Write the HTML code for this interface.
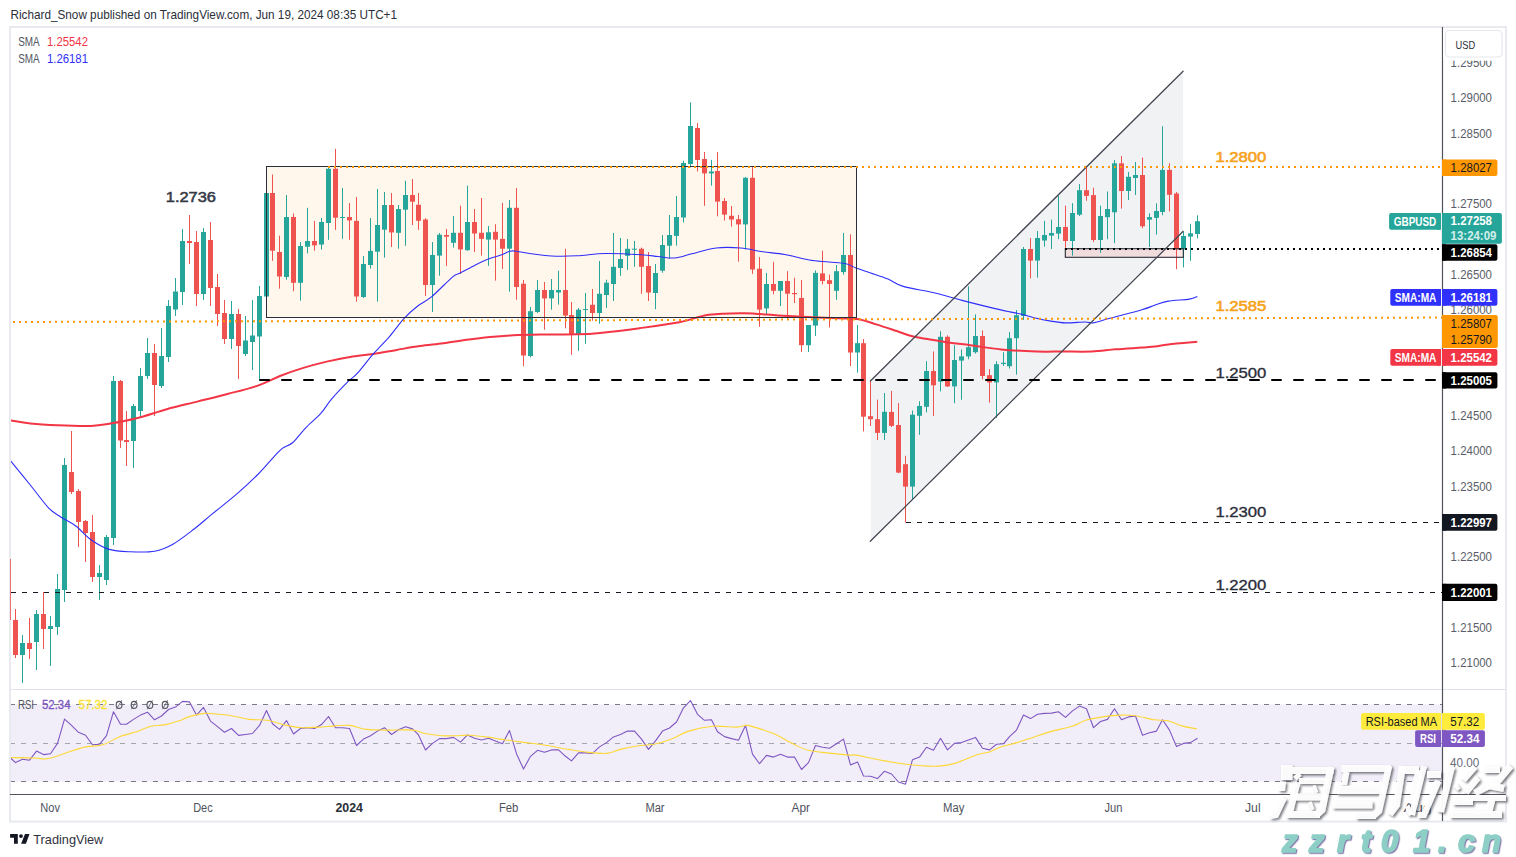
<!DOCTYPE html><html><head><meta charset="utf-8"><title>GBPUSD chart</title><style>
html,body{margin:0;padding:0;background:#fff;width:1516px;height:857px;overflow:hidden}
svg{display:block}text{font-family:"Liberation Sans",sans-serif}
</style></head><body>
<svg width="1516" height="857" viewBox="0 0 1516 857">
<defs><clipPath id="mp"><rect x="11" y="28" width="1431" height="661"/></clipPath><clipPath id="rp"><rect x="11" y="690" width="1431" height="104"/></clipPath></defs>
<rect x="0" y="0" width="1516" height="857" fill="#fff"/>
<text x="10.5" y="19" font-size="12.2" fill="#2a2e39" textLength="386.5" lengthAdjust="spacingAndGlyphs">Richard_Snow published on TradingView.com, Jun 19, 2024 08:35 UTC+1</text>
<rect x="10" y="27" width="1496" height="794.5" fill="none" stroke="#e8eaf0" stroke-width="2"/>
<g clip-path="url(#mp)">
<rect x="266.5" y="166.5" width="590" height="151" fill="#fff6ec"/>
<polygon points="870.8,381 1183.1,71.2 1183.1,231.3 870.8,541.3" fill="#f1f2f3"/>
<rect x="1065.3" y="248.7" width="118" height="8.6" fill="#f242451f"/>
<g fill="#26a69a"><rect x="22" y="635" width="1" height="48"/><rect x="20" y="643" width="5" height="12"/><rect x="36" y="610" width="1" height="60"/><rect x="34" y="614" width="5" height="28"/><rect x="50" y="616" width="1" height="50"/><rect x="48" y="626" width="5" height="3"/><rect x="57" y="574" width="1" height="61"/><rect x="55" y="589" width="5" height="38"/><rect x="64" y="458" width="1" height="144"/><rect x="62" y="465" width="5" height="125"/><rect x="99" y="565" width="1" height="35"/><rect x="97" y="573" width="5" height="4"/><rect x="106" y="535" width="1" height="50"/><rect x="104" y="537" width="5" height="43"/><rect x="113" y="376" width="1" height="169"/><rect x="111" y="381" width="5" height="157"/><rect x="133" y="404" width="1" height="64"/><rect x="131" y="406" width="5" height="35"/><rect x="140" y="368" width="1" height="49"/><rect x="138" y="376" width="5" height="35"/><rect x="147" y="338" width="1" height="41"/><rect x="145" y="353" width="5" height="23"/><rect x="161" y="328" width="1" height="60"/><rect x="159" y="356" width="5" height="30"/><rect x="168" y="300" width="1" height="62"/><rect x="166" y="306" width="5" height="51"/><rect x="175" y="278" width="1" height="38"/><rect x="173" y="291.5" width="5" height="18"/><rect x="182" y="229" width="1" height="76"/><rect x="180" y="241" width="5" height="51"/><rect x="203" y="228" width="1" height="72"/><rect x="201" y="232" width="5" height="62"/><rect x="231" y="301" width="1" height="48"/><rect x="229" y="314" width="5" height="25"/><rect x="245" y="316" width="1" height="40"/><rect x="243" y="340.5" width="5" height="13.5"/><rect x="252" y="300" width="1" height="70"/><rect x="250" y="335.5" width="5" height="6.5"/><rect x="259" y="286" width="1" height="93"/><rect x="257" y="296" width="5" height="40.5"/><rect x="266" y="192" width="1" height="106"/><rect x="264" y="193" width="5" height="103.5"/><rect x="286" y="195" width="1" height="84.7"/><rect x="284" y="217" width="5" height="60"/><rect x="300" y="242" width="1" height="58.7"/><rect x="298" y="246" width="5" height="36.8"/><rect x="307" y="207.8" width="1" height="45.6"/><rect x="305" y="241" width="5" height="5.7"/><rect x="321" y="218" width="1" height="31.6"/><rect x="319" y="222" width="5" height="22.6"/><rect x="328" y="167" width="1" height="72.8"/><rect x="326" y="168.8" width="5" height="54.2"/><rect x="342" y="187.9" width="1" height="50.8"/><rect x="340" y="217" width="5" height="1"/><rect x="363" y="256" width="1" height="42"/><rect x="361" y="264" width="5" height="33"/><rect x="370" y="218" width="1" height="50.5"/><rect x="368" y="250.9" width="5" height="14.1"/><rect x="377" y="189" width="1" height="112.7"/><rect x="375" y="225" width="5" height="26.7"/><rect x="384" y="192" width="1" height="65.6"/><rect x="382" y="205" width="5" height="24.7"/><rect x="398" y="205" width="1" height="43.7"/><rect x="396" y="209" width="5" height="23.8"/><rect x="405" y="180.8" width="1" height="65"/><rect x="403" y="195" width="5" height="14.7"/><rect x="432" y="242" width="1" height="70"/><rect x="430" y="255" width="5" height="30"/><rect x="439" y="233" width="1" height="42.7"/><rect x="437" y="234.7" width="5" height="20.9"/><rect x="453" y="215.9" width="1" height="31.8"/><rect x="451" y="232.8" width="5" height="10"/><rect x="467" y="185.7" width="1" height="65"/><rect x="465" y="222" width="5" height="28.2"/><rect x="488" y="226" width="1" height="39.9"/><rect x="486" y="232.3" width="5" height="7.3"/><rect x="509" y="200" width="1" height="91.6"/><rect x="507" y="207.8" width="5" height="40.9"/><rect x="530" y="307" width="1" height="50.4"/><rect x="528" y="311.2" width="5" height="44.8"/><rect x="537" y="280" width="1" height="33"/><rect x="535" y="290" width="5" height="22"/><rect x="551" y="279" width="1" height="30.7"/><rect x="549" y="290" width="5" height="8.4"/><rect x="558" y="270.7" width="1" height="33.9"/><rect x="556" y="290" width="5" height="2.5"/><rect x="578" y="308" width="1" height="42.8"/><rect x="576" y="309.7" width="5" height="24.6"/><rect x="585" y="293" width="1" height="50.8"/><rect x="583" y="309.1" width="5" height="1"/><rect x="599" y="261" width="1" height="62.8"/><rect x="597" y="293.8" width="5" height="19.2"/><rect x="606" y="279.7" width="1" height="28.2"/><rect x="604" y="282.7" width="5" height="12.3"/><rect x="613" y="233" width="1" height="68"/><rect x="611" y="266.8" width="5" height="17.2"/><rect x="620" y="238" width="1" height="37.8"/><rect x="618" y="259" width="5" height="9"/><rect x="627" y="239" width="1" height="30.9"/><rect x="625" y="248.8" width="5" height="7"/><rect x="634" y="241" width="1" height="25.8"/><rect x="632" y="248.7" width="5" height="1"/><rect x="655" y="264" width="1" height="45.2"/><rect x="653" y="273" width="5" height="20"/><rect x="662" y="235" width="1" height="37.7"/><rect x="660" y="245" width="5" height="25.7"/><rect x="669" y="215" width="1" height="43.7"/><rect x="667" y="235" width="5" height="10.7"/><rect x="676" y="196" width="1" height="49.7"/><rect x="674" y="217" width="5" height="18.9"/><rect x="683" y="160.7" width="1" height="61.7"/><rect x="681" y="163" width="5" height="54.5"/><rect x="690" y="102.4" width="1" height="64.9"/><rect x="688" y="126" width="5" height="38"/><rect x="711" y="160" width="1" height="25.7"/><rect x="709" y="171.5" width="5" height="1.9"/><rect x="745" y="177" width="1" height="72.4"/><rect x="743" y="177.8" width="5" height="46.6"/><rect x="766" y="272.9" width="1" height="41.6"/><rect x="764" y="284" width="5" height="24.4"/><rect x="780" y="281" width="1" height="25"/><rect x="778" y="281" width="5" height="9.8"/><rect x="808" y="325" width="1" height="27"/><rect x="806" y="325" width="5" height="20.2"/><rect x="815" y="270.4" width="1" height="65.5"/><rect x="813" y="272.9" width="5" height="52.7"/><rect x="836" y="265" width="1" height="34.8"/><rect x="834" y="271.2" width="5" height="19.6"/><rect x="843" y="233" width="1" height="41.6"/><rect x="841" y="255" width="5" height="17.1"/><rect x="857" y="325" width="1" height="47.6"/><rect x="855" y="343.2" width="5" height="9.3"/><rect x="884" y="393" width="1" height="47"/><rect x="882" y="411.8" width="5" height="21.1"/><rect x="912" y="410.5" width="1" height="88.7"/><rect x="910" y="414.7" width="5" height="71.9"/><rect x="919" y="401.2" width="1" height="33.6"/><rect x="917" y="406" width="5" height="9.8"/><rect x="926" y="361.2" width="1" height="51.2"/><rect x="924" y="371" width="5" height="35.8"/><rect x="940" y="331.2" width="1" height="60.2"/><rect x="938" y="336.8" width="5" height="44.8"/><rect x="954" y="345.2" width="1" height="58"/><rect x="952" y="360" width="5" height="26.4"/><rect x="961" y="349.4" width="1" height="50.4"/><rect x="959" y="356.4" width="5" height="4.2"/><rect x="968" y="286.4" width="1" height="72.8"/><rect x="966" y="347.2" width="5" height="9.2"/><rect x="975" y="314.4" width="1" height="39.2"/><rect x="973" y="336" width="5" height="16.2"/><rect x="996" y="361.2" width="1" height="56.8"/><rect x="994" y="364.2" width="5" height="18.2"/><rect x="1003" y="352.2" width="1" height="13.8"/><rect x="1001" y="362.8" width="5" height="1.2"/><rect x="1009" y="332" width="1" height="36.5"/><rect x="1007" y="338.2" width="5" height="28"/><rect x="1016" y="310" width="1" height="64.6"/><rect x="1014" y="315.2" width="5" height="23"/><rect x="1023" y="247" width="1" height="73"/><rect x="1021" y="249" width="5" height="67"/><rect x="1037" y="231" width="1" height="46.7"/><rect x="1035" y="238" width="5" height="22.6"/><rect x="1044" y="220.9" width="1" height="25.7"/><rect x="1042" y="235" width="5" height="5.5"/><rect x="1051" y="219.6" width="1" height="29.4"/><rect x="1049" y="233" width="5" height="2.6"/><rect x="1058" y="195.9" width="1" height="43.3"/><rect x="1056" y="227" width="5" height="6.6"/><rect x="1072" y="203.2" width="1" height="52.5"/><rect x="1070" y="213" width="5" height="28"/><rect x="1079" y="184" width="1" height="32"/><rect x="1077" y="190.2" width="5" height="24.5"/><rect x="1100" y="205.7" width="1" height="47"/><rect x="1098" y="216" width="5" height="24"/><rect x="1107" y="191.5" width="1" height="47.7"/><rect x="1105" y="209" width="5" height="8.2"/><rect x="1114" y="160" width="1" height="83"/><rect x="1112" y="163.3" width="5" height="49"/><rect x="1128" y="171.9" width="1" height="28.1"/><rect x="1126" y="176.8" width="5" height="14.2"/><rect x="1135" y="162" width="1" height="33"/><rect x="1133" y="175" width="5" height="3"/><rect x="1149" y="213.3" width="1" height="33.6"/><rect x="1147" y="217.1" width="5" height="2.6"/><rect x="1156" y="203.3" width="1" height="31.3"/><rect x="1154" y="211" width="5" height="6.9"/><rect x="1162" y="126.2" width="1" height="89.1"/><rect x="1160" y="169.9" width="5" height="42.1"/><rect x="1183" y="232" width="1" height="35.4"/><rect x="1181" y="235.9" width="5" height="13.6"/><rect x="1190" y="223.8" width="1" height="37"/><rect x="1188" y="233.3" width="5" height="3.3"/><rect x="1197" y="215.3" width="1" height="23.1"/><rect x="1195" y="221.2" width="5" height="12.8"/></g>
<g fill="#ef5350"><rect x="15" y="609" width="1" height="49"/><rect x="13" y="620" width="5" height="35"/><rect x="29" y="618" width="1" height="41"/><rect x="27" y="643" width="5" height="6"/><rect x="43" y="592" width="1" height="57"/><rect x="41" y="614" width="5" height="15"/><rect x="71" y="431" width="1" height="63"/><rect x="69" y="472" width="5" height="20"/><rect x="78" y="489" width="1" height="58"/><rect x="76" y="491" width="5" height="31"/><rect x="85" y="520" width="1" height="42"/><rect x="83" y="521" width="5" height="12"/><rect x="92" y="515" width="1" height="67"/><rect x="90" y="532" width="5" height="45"/><rect x="120" y="380" width="1" height="68"/><rect x="118" y="381" width="5" height="59.5"/><rect x="126" y="411" width="1" height="55"/><rect x="124" y="440" width="5" height="2"/><rect x="154" y="344" width="1" height="72"/><rect x="152" y="353" width="5" height="32"/><rect x="189" y="215" width="1" height="49"/><rect x="187" y="241" width="5" height="2"/><rect x="196" y="231" width="1" height="75"/><rect x="194" y="242" width="5" height="52"/><rect x="210" y="222" width="1" height="84"/><rect x="208" y="240" width="5" height="48"/><rect x="217" y="274" width="1" height="52"/><rect x="215" y="287" width="5" height="27"/><rect x="224" y="300" width="1" height="44"/><rect x="222" y="313" width="5" height="26"/><rect x="238" y="309" width="1" height="70"/><rect x="236" y="314" width="5" height="32"/><rect x="272" y="174.6" width="1" height="86.2"/><rect x="270" y="193" width="5" height="57.7"/><rect x="279" y="235.6" width="1" height="53.1"/><rect x="277" y="252" width="5" height="24.5"/><rect x="293" y="213.5" width="1" height="77.7"/><rect x="291" y="217" width="5" height="65.8"/><rect x="314" y="220.9" width="1" height="29.8"/><rect x="312" y="241" width="5" height="4.4"/><rect x="335" y="148.8" width="1" height="81.1"/><rect x="333" y="168.8" width="5" height="48.9"/><rect x="349" y="203" width="1" height="36.8"/><rect x="347" y="217" width="5" height="3.4"/><rect x="356" y="197" width="1" height="104.7"/><rect x="354" y="220.9" width="5" height="75.6"/><rect x="391" y="193" width="1" height="54"/><rect x="389" y="205" width="5" height="27.4"/><rect x="412" y="179" width="1" height="46"/><rect x="410" y="195" width="5" height="6.7"/><rect x="418" y="193" width="1" height="36.8"/><rect x="416" y="204.8" width="5" height="16"/><rect x="425" y="218.3" width="1" height="77.7"/><rect x="423" y="219.5" width="5" height="65.5"/><rect x="446" y="229" width="1" height="36.9"/><rect x="444" y="235" width="5" height="1.7"/><rect x="460" y="205.8" width="1" height="68.2"/><rect x="458" y="232.8" width="5" height="16.6"/><rect x="474" y="209" width="1" height="42.9"/><rect x="472" y="222" width="5" height="11.5"/><rect x="481" y="198" width="1" height="57.6"/><rect x="479" y="232.8" width="5" height="6.1"/><rect x="495" y="224.2" width="1" height="56.4"/><rect x="493" y="231.8" width="5" height="7.8"/><rect x="502" y="202.9" width="1" height="66.1"/><rect x="500" y="238.9" width="5" height="9.8"/><rect x="516" y="188" width="1" height="111.7"/><rect x="514" y="207.8" width="5" height="79.2"/><rect x="523" y="280" width="1" height="86.3"/><rect x="521" y="283.7" width="5" height="71.8"/><rect x="544" y="282" width="1" height="47.7"/><rect x="542" y="290" width="5" height="8.4"/><rect x="565" y="248.8" width="1" height="79.6"/><rect x="563" y="290" width="5" height="25.6"/><rect x="571" y="302" width="1" height="52.9"/><rect x="569" y="315" width="5" height="19.3"/><rect x="592" y="289" width="1" height="31.7"/><rect x="590" y="304.8" width="5" height="8.2"/><rect x="641" y="247.6" width="1" height="46.2"/><rect x="639" y="248.8" width="5" height="18"/><rect x="648" y="252" width="1" height="49"/><rect x="646" y="266" width="5" height="26.5"/><rect x="697" y="123" width="1" height="48.5"/><rect x="695" y="128" width="5" height="32"/><rect x="704" y="152" width="1" height="53.8"/><rect x="702" y="159" width="5" height="14.4"/><rect x="717" y="152" width="1" height="64.3"/><rect x="715" y="171" width="5" height="30.6"/><rect x="724" y="198" width="1" height="22.5"/><rect x="722" y="201" width="5" height="13.6"/><rect x="731" y="206" width="1" height="20.6"/><rect x="729" y="215.8" width="5" height="3.7"/><rect x="738" y="215" width="1" height="46.6"/><rect x="736" y="219.2" width="5" height="5.2"/><rect x="752" y="166.5" width="1" height="107.4"/><rect x="750" y="177.8" width="5" height="91.7"/><rect x="759" y="257" width="1" height="69.8"/><rect x="757" y="268.7" width="5" height="40.9"/><rect x="773" y="261.9" width="1" height="32.3"/><rect x="771" y="284" width="5" height="6.8"/><rect x="787" y="271.2" width="1" height="48.2"/><rect x="785" y="281" width="5" height="12.7"/><rect x="794" y="277.8" width="1" height="25.2"/><rect x="792" y="293" width="5" height="1.2"/><rect x="801" y="280" width="1" height="72"/><rect x="799" y="298" width="5" height="47.2"/><rect x="822" y="250.8" width="1" height="33.6"/><rect x="820" y="273.4" width="5" height="7.6"/><rect x="829" y="274.6" width="1" height="52.9"/><rect x="827" y="280.2" width="5" height="3.7"/><rect x="850" y="234.4" width="1" height="131.6"/><rect x="848" y="255" width="5" height="97.5"/><rect x="863" y="339" width="1" height="92.4"/><rect x="861" y="343.2" width="5" height="73.5"/><rect x="870" y="380.7" width="1" height="45.3"/><rect x="868" y="416.2" width="5" height="3"/><rect x="877" y="399.6" width="1" height="40.4"/><rect x="875" y="419.2" width="5" height="13.7"/><rect x="891" y="390.9" width="1" height="36.1"/><rect x="889" y="411.9" width="5" height="14"/><rect x="898" y="403" width="1" height="70.2"/><rect x="896" y="425" width="5" height="47.6"/><rect x="905" y="455.8" width="1" height="66.7"/><rect x="903" y="464.2" width="5" height="22.4"/><rect x="933" y="351.4" width="1" height="64.6"/><rect x="931" y="371" width="5" height="14.3"/><rect x="947" y="335.4" width="1" height="51.6"/><rect x="945" y="336.8" width="5" height="49.6"/><rect x="982" y="330.4" width="1" height="49"/><rect x="980" y="336" width="5" height="40"/><rect x="989" y="369" width="1" height="33.6"/><rect x="987" y="375.2" width="5" height="7.2"/><rect x="1030" y="238" width="1" height="40.4"/><rect x="1028" y="249" width="5" height="11.6"/><rect x="1065" y="205.7" width="1" height="42.1"/><rect x="1063" y="227" width="5" height="14"/><rect x="1086" y="167" width="1" height="33.8"/><rect x="1084" y="190.2" width="5" height="5.7"/><rect x="1093" y="187.8" width="1" height="54.2"/><rect x="1091" y="195.1" width="5" height="44.9"/><rect x="1121" y="156" width="1" height="52.6"/><rect x="1119" y="163.3" width="5" height="27.7"/><rect x="1142" y="157.6" width="1" height="70.6"/><rect x="1140" y="175" width="5" height="51.3"/><rect x="1169" y="163.2" width="1" height="48.3"/><rect x="1167" y="169.9" width="5" height="24.9"/><rect x="1176" y="192" width="1" height="77.2"/><rect x="1174" y="193.5" width="5" height="56"/></g>
<path fill="none" stroke="#f23645" stroke-width="2" d="M10.6,420.4C13.88,420.92 22.47,422.68 30.3,423.5C38.13,424.32 47.48,424.9 57.6,425.3C67.72,425.7 82.4,426.15 91,425.9C99.6,425.65 101.62,425.07 109.2,423.8C116.78,422.53 126.9,420.73 136.5,418.3C146.1,415.87 156.68,411.98 166.8,409.2C176.92,406.42 187.08,404.13 197.2,401.6C207.32,399.07 217.4,396.67 227.5,394C237.6,391.33 249.05,388.6 257.8,385.6C266.55,382.6 272.42,378.95 280,376C287.58,373.05 295.52,370.3 303.3,367.9C311.08,365.5 318.92,363.43 326.7,361.6C334.48,359.77 342.23,358.18 350,356.9C357.77,355.62 365.52,355.07 373.3,353.9C381.08,352.73 388.92,351.2 396.7,349.9C404.48,348.6 412.22,347.2 420,346.1C427.78,345 435.62,344.35 443.4,343.3C451.18,342.25 458.93,340.85 466.7,339.8C474.47,338.75 482.22,337.77 490,337C497.78,336.23 505.07,335.62 513.4,335.2C521.73,334.78 529.23,334.65 540,334.5C550.77,334.35 568,334.57 578,334.3C588,334.03 589.73,333.92 600,332.9C610.27,331.88 626.4,329.97 639.6,328.2C652.8,326.43 667.67,324.53 679.2,322.3C690.73,320.07 697.92,316.32 708.8,314.8C719.68,313.28 732.95,313.1 744.5,313.2C756.05,313.3 767.55,314.75 778.1,315.4C788.65,316.05 797.9,316.62 807.8,317.1C817.7,317.58 829.25,317.97 837.5,318.3C845.75,318.63 850.72,318.05 857.3,319.1C863.88,320.15 869.88,322.42 877,324.6C884.12,326.78 893.77,330.17 900,332.2C906.23,334.23 906.4,335.1 914.4,336.8C922.4,338.5 938.67,341 948,342.4C957.33,343.8 961.53,344.03 970.4,345.2C979.27,346.37 990.2,348.35 1001.2,349.4C1012.2,350.45 1026.13,351.15 1036.4,351.5C1046.67,351.85 1053.57,351.5 1062.8,351.5C1072.03,351.5 1083.02,351.87 1091.8,351.5C1100.58,351.13 1107.15,349.95 1115.5,349.3C1123.85,348.65 1135.3,348.05 1141.9,347.6C1148.5,347.15 1150.7,347.13 1155.1,346.6C1159.5,346.07 1161.27,345.2 1168.3,344.4C1175.33,343.6 1192.47,342.23 1197.3,341.8"/>
<path fill="none" stroke="#2f2ffa" stroke-width="1.1" d="M10.6,460.8C13.88,464.83 23.98,477.17 30.3,485C36.62,492.83 43.43,502.47 48.5,507.8C53.57,513.13 56.15,513.97 60.7,517C65.25,520.03 70.75,522.22 75.8,526C80.85,529.78 85.43,535.8 91,539.7C96.57,543.6 102.63,547.38 109.2,549.4C115.77,551.42 122.82,551.5 130.4,551.8C137.98,552.1 147.62,552.47 154.7,551.2C161.78,549.93 166.33,547.9 172.9,544.2C179.47,540.5 187.53,534.05 194.1,529C200.67,523.95 205.22,519.7 212.3,513.9C219.38,508.1 229.02,500.77 236.6,494.2C244.18,487.63 251.73,480.57 257.8,474.5C263.87,468.43 268.92,462.15 273,457.8C277.08,453.45 279,450.95 282.3,448.4C285.6,445.85 288.9,445.93 292.8,442.5C296.7,439.07 301.03,432.65 305.7,427.8C310.37,422.95 316.53,418.13 320.8,413.4C325.07,408.67 326.82,404.65 331.3,399.4C335.78,394.15 343.42,386.18 347.7,381.9C351.98,377.62 352.73,378.37 357,373.7C361.27,369.03 367.85,360.13 373.3,353.9C378.75,347.67 384.63,342.15 389.7,336.3C394.77,330.45 399.03,323.85 403.7,318.8C408.37,313.75 413.03,309.68 417.7,306C422.37,302.32 425.87,301.57 431.7,296.7C437.53,291.83 448.03,280.7 452.7,276.8C457.37,272.9 456.2,275.12 459.7,273.3C463.2,271.48 469.03,268.23 473.7,265.9C478.37,263.57 483.03,261.17 487.7,259.3C492.37,257.43 498,256.05 501.7,254.7C505.4,253.35 507.57,251.78 509.9,251.2C512.23,250.62 511.78,250.73 515.7,251.2C519.62,251.67 527.45,253.2 533.4,254C539.35,254.8 544.13,255.7 551.4,256C558.67,256.3 568.02,256.22 577,255.8C585.98,255.38 594.58,253.68 605.3,253.5C616.02,253.32 632.52,254.2 641.3,254.7C650.08,255.2 652.47,255.95 658,256.5C663.53,257.05 668.88,258.45 674.5,258C680.12,257.55 684.75,255.47 691.7,253.8C698.65,252.13 708.03,248.97 716.2,248C724.37,247.03 732.93,247.37 740.7,248C748.47,248.63 755.45,250.72 762.8,251.8C770.15,252.88 777.05,253.13 784.8,254.5C792.55,255.87 801.95,258.75 809.3,260C816.65,261.25 822.78,261.37 828.9,262C835.02,262.63 841.5,262.8 846,263.8C850.5,264.8 851.8,266.48 855.9,268C860,269.52 865.25,271.07 870.6,272.9C875.95,274.73 882.57,276.75 888,279C893.43,281.25 895.53,284.1 903.2,286.4C910.87,288.7 924.2,290.47 934,292.8C943.8,295.13 952.67,297.97 962,300.4C971.33,302.83 982,305.48 990,307.4C998,309.32 1004.9,310.8 1010,311.9C1015.1,313 1016.2,312.93 1020.6,314C1025,315.07 1031.57,317.15 1036.4,318.3C1041.23,319.45 1044.77,320.13 1049.6,320.9C1054.43,321.67 1059.47,322.72 1065.4,322.9C1071.33,323.08 1080.58,322 1085.2,322C1089.82,322 1089.15,323.48 1093.1,322.9C1097.05,322.32 1100.77,320.7 1108.9,318.5C1117.03,316.3 1134.2,311.93 1141.9,309.7C1149.6,307.47 1150.7,306.53 1155.1,305.1C1159.5,303.67 1162.58,302.1 1168.3,301.1C1174.02,300.1 1184.57,299.87 1189.4,299.1C1194.23,298.33 1195.98,296.93 1197.3,296.5"/>
<rect x="266.5" y="166.5" width="590" height="151" fill="none" stroke="#2a2e39" stroke-width="1"/>
<rect x="1065.3" y="248.7" width="118" height="8.6" fill="none" stroke="#2a2e39" stroke-width="1.1"/>
<line x1="870.4" y1="381" x2="1183.1" y2="71.2" stroke="#434651" stroke-width="1.25" stroke-linecap="round"/>
<line x1="870.3" y1="541.3" x2="1183.2" y2="231.3" stroke="#434651" stroke-width="1.25" stroke-linecap="round"/>
<line x1="328" y1="167" x2="1442" y2="167" stroke="#ff9800" stroke-width="2" stroke-dasharray="2 4"/>
<line x1="13" y1="322" x2="1442" y2="317.55" stroke="#ff9800" stroke-width="2" stroke-dasharray="2 4"/>
<line x1="260" y1="380" x2="1442" y2="380" stroke="#000" stroke-width="2" stroke-linecap="round" stroke-dasharray="9 13"/>
<line x1="1065" y1="249" x2="1442" y2="249" stroke="#000" stroke-width="2" stroke-dasharray="2 4"/>
<line x1="906" y1="522.5" x2="1442" y2="522.5" stroke="#131722" stroke-width="1" stroke-dasharray="5 6"/>
<line x1="11" y1="592.5" x2="1442" y2="592.5" stroke="#131722" stroke-width="1" stroke-dasharray="5 6"/>
<text x="165.8" y="202.2" font-size="15" fill="#363a45" stroke="#363a45" stroke-width="0.55" textLength="50.2" lengthAdjust="spacingAndGlyphs">1.2736</text>
<text x="1215.4" y="162.2" font-size="15" fill="#f7a21b" stroke="#f7a21b" stroke-width="0.6" textLength="51" lengthAdjust="spacingAndGlyphs">1.2800</text>
<text x="1215.4" y="311.2" font-size="15" fill="#f7a21b" stroke="#f7a21b" stroke-width="0.6" textLength="51" lengthAdjust="spacingAndGlyphs">1.2585</text>
<text x="1215.4" y="378" font-size="15" fill="#2a2e39" stroke="#2a2e39" stroke-width="0.35" textLength="51" lengthAdjust="spacingAndGlyphs">1.2500</text>
<text x="1215.4" y="517.3" font-size="15" fill="#2a2e39" stroke="#2a2e39" stroke-width="0.35" textLength="51" lengthAdjust="spacingAndGlyphs">1.2300</text>
<text x="1215.4" y="590" font-size="15" fill="#2a2e39" stroke="#2a2e39" stroke-width="0.35" textLength="51" lengthAdjust="spacingAndGlyphs">1.2200</text>
</g>
<rect x="10" y="559" width="1" height="61" fill="#ef5350" opacity="0.8"/>
<text x="18.2" y="45.8" font-size="12" fill="#50535e" textLength="21.5" lengthAdjust="spacingAndGlyphs">SMA</text>
<text x="47" y="45.8" font-size="12" fill="#f23645" textLength="41" lengthAdjust="spacingAndGlyphs">1.25542</text>
<text x="18.2" y="63" font-size="12" fill="#50535e" textLength="21.5" lengthAdjust="spacingAndGlyphs">SMA</text>
<text x="47" y="63" font-size="12" fill="#2f2ffa" textLength="41" lengthAdjust="spacingAndGlyphs">1.26181</text>
<line x1="10" y1="689.5" x2="1506" y2="689.5" stroke="#e0e3eb" stroke-width="1"/>
<g clip-path="url(#rp)">
<rect x="11" y="704.5" width="1431" height="77" fill="#f2eef9"/>
<line x1="10" y1="704.5" x2="1442" y2="704.5" stroke="#787b86" stroke-width="1.2" stroke-dasharray="5 6"/>
<line x1="10" y1="743.5" x2="1442" y2="743.5" stroke="#a3a6af" stroke-width="1" stroke-dasharray="5 6"/>
<line x1="10" y1="781.5" x2="1442" y2="781.5" stroke="#787b86" stroke-width="1.2" stroke-dasharray="5 6"/>
<polyline fill="none" stroke="#7e57c2" stroke-width="1.1" stroke-linejoin="round" points="10.6,758 15.5,762.6 22.5,759.2 29.5,760.2 36.5,751.1 43.5,754.6 50.5,753.7 57.5,743.4 64.5,719.1 71.5,725.4 78.5,732.3 85.5,735.2 92.5,744.8 99.5,744.3 106.5,735.7 113.5,711.7 120.5,724.2 126.5,724.2 133.5,719.4 140.5,715.1 147.5,712.2 154.5,719.8 161.5,716 168.5,709.5 175.5,707.1 182.5,701.4 189.5,701.9 196.5,715.1 203.5,707.4 210.5,721.1 217.5,726.6 224.5,732.3 231.5,728.5 238.5,735.4 245.5,734.5 252.5,733.5 259.5,725.4 266.5,710.5 272.5,723.7 279.5,729.4 286.5,720.6 293.5,734 300.5,728.5 307.5,727.7 314.5,728.5 321.5,724.6 328.5,716.5 335.5,727.7 342.5,727.7 349.5,728.5 356.5,745.5 363.5,739.1 370.5,735.7 377.5,731.1 384.5,727.7 391.5,734.5 398.5,729.7 405.5,726.8 412.5,728.9 418.5,734.9 425.5,750 432.5,743.4 439.5,738.6 446.5,738.6 453.5,737.4 460.5,742.1 467.5,734.9 474.5,738.3 481.5,740 488.5,738.3 495.5,740.9 502.5,743.8 509.5,730.6 516.5,753.7 523.5,769.1 530.5,756.3 537.5,750.3 544.5,752.3 551.5,749.9 558.5,749.9 565.5,756.3 571.5,760.9 578.5,752.9 585.5,752.9 592.5,753.4 599.5,746.9 606.5,742.6 613.5,736.9 620.5,734.5 627.5,731.1 634.5,731.1 641.5,739.1 648.5,749.4 655.5,740.9 662.5,731.1 669.5,728 676.5,722 683.5,707.8 690.5,700.6 697.5,714.3 704.5,720.3 711.5,719.8 717.5,731.8 724.5,736.6 731.5,738.6 738.5,740.3 745.5,725.4 752.5,754.1 759.5,763.7 766.5,755.4 773.5,757.1 780.5,754.2 787.5,757.1 794.5,757.1 801.5,769.5 808.5,762.6 815.5,745.5 822.5,747.2 829.5,748.2 836.5,743.8 843.5,739.1 850.5,764.9 857.5,761.9 863.5,776 870.5,776.3 877.5,778.6 884.5,771.2 891.5,774 898.5,782 905.5,784.2 912.5,759.7 919.5,757.1 926.5,747.2 933.5,750.3 940.5,738.3 947.5,749.9 954.5,743.4 961.5,742.6 968.5,740 975.5,737.4 982.5,748.2 989.5,749.9 996.5,744.3 1003.5,743.8 1009.5,736.6 1016.5,730.1 1023.5,715.1 1030.5,718.6 1037.5,714.3 1044.5,713.4 1051.5,713.1 1058.5,711.7 1065.5,717.4 1072.5,710.9 1079.5,706.1 1086.5,708.8 1093.5,727.7 1100.5,721.5 1107.5,719.4 1114.5,708.8 1121.5,719.8 1128.5,716.9 1135.5,716 1142.5,735.2 1149.5,732.8 1156.5,731.1 1162.5,719.8 1169.5,730.1 1176.5,746.5 1183.5,743.4 1190.5,742.6 1197.5,738.3"/>
<path fill="none" stroke="#fdd835" stroke-width="1.1" d="M10.6,757.5C14.55,757.58 28.35,757.77 34.3,758C40.25,758.23 42.58,759.18 46.3,758.9C50.02,758.62 52.88,757.45 56.6,756.3C60.32,755.15 63.75,753.57 68.6,752C73.45,750.43 79.98,748.1 85.7,746.9C91.42,745.7 97.18,746.52 102.9,744.8C108.62,743.08 114.28,738.83 120,736.6C125.72,734.37 132.05,733.12 137.2,731.4C142.35,729.68 146.33,727.38 150.9,726.3C155.47,725.22 160.02,725.77 164.6,724.9C169.18,724.03 174.4,722.43 178.4,721.1C182.4,719.77 184.32,718.18 188.6,716.9C192.88,715.62 199.8,713.9 204.1,713.4C208.4,712.9 209.83,713.52 214.4,713.9C218.97,714.28 225.57,714.78 231.5,715.7C237.43,716.62 244.07,718.63 250,719.4C255.93,720.17 261.38,719.38 267.1,720.3C272.82,721.22 278.58,723.67 284.3,724.9C290.02,726.13 295.68,727.33 301.4,727.7C307.12,728.07 312.88,727.4 318.6,727.1C324.32,726.8 330.55,726.18 335.7,725.9C340.85,725.62 344.35,724.82 349.5,725.4C354.65,725.98 360.32,728.62 366.6,729.4C372.88,730.18 379.48,729.98 387.2,730.1C394.92,730.22 406.62,729.53 412.9,730.1C419.18,730.67 420.03,732.57 424.9,733.5C429.77,734.43 436.95,735.33 442.1,735.7C447.25,736.07 451.23,735.78 455.8,735.7C460.37,735.62 463.78,734.92 469.5,735.2C475.22,735.48 485.02,736.75 490.1,737.4C495.18,738.05 494.63,738.32 500,739.1C505.37,739.88 515.15,741.15 522.3,742.1C529.45,743.05 535.18,743.58 542.9,744.8C550.62,746.02 561.47,748.2 568.6,749.4C575.73,750.6 579.42,751.33 585.7,752C591.98,752.67 600.58,753.83 606.3,753.4C612.02,752.97 614.85,750.63 620,749.4C625.15,748.17 631.48,746.85 637.2,746C642.92,745.15 648.58,745.45 654.3,744.3C660.02,743.15 665.78,741.3 671.5,739.1C677.22,736.9 681.73,733.23 688.6,731.1C695.47,728.97 704.68,726.97 712.7,726.3C720.72,725.63 731.28,727.25 736.7,727.1C742.12,726.95 742.98,725.6 745.2,725.4C747.42,725.2 745.48,724.62 750,725.9C754.52,727.18 765.15,730.12 772.3,733.1C779.45,736.08 786.9,740.93 792.9,743.8C798.9,746.67 802.58,748.78 808.3,750.3C814.02,751.82 820.33,752.1 827.2,752.9C834.07,753.7 844.65,754.73 849.5,755.1C854.35,755.47 851.45,754.33 856.3,755.1C861.15,755.87 870.6,758.22 878.6,759.7C886.6,761.18 897.15,763 904.3,764C911.45,765 915.78,765.35 921.5,765.7C927.22,766.05 932.88,766.53 938.6,766.1C944.32,765.67 949.5,764.93 955.8,763.1C962.1,761.27 970.68,757 976.4,755.1C982.12,753.2 986.17,753.02 990.1,751.7C994.03,750.38 995.5,748.72 1000,747.2C1004.5,745.68 1011.38,744.32 1017.1,742.6C1022.82,740.88 1028.58,738.77 1034.3,736.9C1040.02,735.03 1045.12,733.17 1051.4,731.4C1057.68,729.63 1066.28,728.15 1072,726.3C1077.72,724.45 1080.55,721.87 1085.7,720.3C1090.85,718.73 1097.18,717.77 1102.9,716.9C1108.62,716.03 1114.57,715.3 1120,715.1C1125.43,714.9 1129.78,714.92 1135.5,715.7C1141.22,716.48 1148.87,718.95 1154.3,719.8C1159.73,720.65 1163.52,719.78 1168.1,720.8C1172.68,721.82 1177,724.55 1181.8,725.9C1186.6,727.25 1194.38,728.4 1196.9,728.9"/>
</g>
<text x="18" y="709.2" font-size="12" fill="#50535e" textLength="16" lengthAdjust="spacingAndGlyphs">RSI</text>
<text x="42" y="709.2" font-size="12" fill="#7e57c2" stroke="#7e57c2" stroke-width="0.3" textLength="28.5" lengthAdjust="spacingAndGlyphs">52.34</text>
<text x="78.5" y="709.2" font-size="12" fill="#f9e33b" stroke="#f9e33b" stroke-width="0.4" textLength="29" lengthAdjust="spacingAndGlyphs">57.32</text>
<g fill="none" stroke="#50535e" stroke-width="1.1"><ellipse cx="119.1" cy="704.9" rx="2.9" ry="3.5"/><line x1="116.5" y1="709.3" x2="121.7" y2="700.2" stroke-width="0.8"/></g>
<g fill="none" stroke="#50535e" stroke-width="1.1"><ellipse cx="134.1" cy="704.9" rx="2.9" ry="3.5"/><line x1="131.5" y1="709.3" x2="136.7" y2="700.2" stroke-width="0.8"/></g>
<g fill="none" stroke="#50535e" stroke-width="1.1"><ellipse cx="149.9" cy="704.9" rx="2.9" ry="3.5"/><line x1="147.3" y1="709.3" x2="152.5" y2="700.2" stroke-width="0.8"/></g>
<g fill="none" stroke="#50535e" stroke-width="1.1"><ellipse cx="165.1" cy="704.9" rx="2.9" ry="3.5"/><line x1="162.5" y1="709.3" x2="167.7" y2="700.2" stroke-width="0.8"/></g>
<line x1="10" y1="794.5" x2="1506" y2="794.5" stroke="#50535e" stroke-width="1.2"/>
<line x1="1442.5" y1="27" x2="1442.5" y2="821" stroke="#50535e" stroke-width="1.2"/>
<text x="1450.6" y="67.3" font-size="12" fill="#5a5d68" textLength="41.4" lengthAdjust="spacingAndGlyphs">1.29500</text>
<text x="1450.6" y="101.7" font-size="12" fill="#5a5d68" textLength="41.4" lengthAdjust="spacingAndGlyphs">1.29000</text>
<text x="1450.6" y="137.9" font-size="12" fill="#5a5d68" textLength="41.4" lengthAdjust="spacingAndGlyphs">1.28500</text>
<text x="1450.6" y="208.4" font-size="12" fill="#5a5d68" textLength="41.4" lengthAdjust="spacingAndGlyphs">1.27500</text>
<text x="1450.6" y="279" font-size="12" fill="#5a5d68" textLength="41.4" lengthAdjust="spacingAndGlyphs">1.26500</text>
<text x="1450.6" y="314.3" font-size="12" fill="#5a5d68" textLength="41.4" lengthAdjust="spacingAndGlyphs">1.26000</text>
<text x="1450.6" y="420.1" font-size="12" fill="#5a5d68" textLength="41.4" lengthAdjust="spacingAndGlyphs">1.24500</text>
<text x="1450.6" y="455.4" font-size="12" fill="#5a5d68" textLength="41.4" lengthAdjust="spacingAndGlyphs">1.24000</text>
<text x="1450.6" y="490.6" font-size="12" fill="#5a5d68" textLength="41.4" lengthAdjust="spacingAndGlyphs">1.23500</text>
<text x="1450.6" y="561.2" font-size="12" fill="#5a5d68" textLength="41.4" lengthAdjust="spacingAndGlyphs">1.22500</text>
<text x="1450.6" y="631.7" font-size="12" fill="#5a5d68" textLength="41.4" lengthAdjust="spacingAndGlyphs">1.21500</text>
<text x="1450.6" y="667" font-size="12" fill="#5a5d68" textLength="41.4" lengthAdjust="spacingAndGlyphs">1.21000</text>
<rect x="1443.2" y="28" width="61" height="32.7" fill="#fff"/>
<rect x="1445.5" y="30.5" width="56.5" height="26.5" rx="4" fill="#fff" stroke="#e6e7ef" stroke-width="1.2"/>
<text x="1455.6" y="48.7" font-size="11.5" fill="#2a2e39" textLength="19.6" lengthAdjust="spacingAndGlyphs">USD</text>
<rect x="1442" y="159.5" width="55.4" height="16.5" rx="2" fill="#ff9800"/><rect x="1442" y="159.5" width="4" height="16.5" fill="#ff9800"/><text x="1450.6" y="172.05" font-size="12"  fill="#131722" textLength="41.4" lengthAdjust="spacingAndGlyphs">1.28027</text>
<rect x="1389.1" y="213.1" width="51.8" height="16.7" rx="2" fill="#26a69a"/><rect x="1436.9" y="213.1" width="4" height="16.7" fill="#26a69a"/><text x="1393.8" y="225.75" font-size="12" font-weight="bold" fill="#ffffff" textLength="42.4" lengthAdjust="spacingAndGlyphs">GBPUSD</text>
<rect x="1442" y="213.1" width="59.9" height="30.7" rx="2" fill="#26a69a"/><rect x="1442" y="213.1" width="4" height="30.7" fill="#26a69a"/>
<text x="1450.6" y="225.4" font-size="12" font-weight="bold" fill="#fff" textLength="41.4" lengthAdjust="spacingAndGlyphs">1.27258</text>
<text x="1450.6" y="239.7" font-size="12" font-weight="bold" fill="#d4eeeb" textLength="45.8" lengthAdjust="spacingAndGlyphs">13:24:09</text>
<rect x="1442" y="244.3" width="55.4" height="16.4" rx="2" fill="#000000"/><rect x="1442" y="244.3" width="4" height="16.4" fill="#000000"/><text x="1450.6" y="256.8" font-size="12" font-weight="bold" fill="#ffffff" textLength="41.4" lengthAdjust="spacingAndGlyphs">1.26854</text>
<rect x="1390.3" y="289" width="50.7" height="16.7" rx="2" fill="#3030fd"/><rect x="1437" y="289" width="4" height="16.7" fill="#3030fd"/><text x="1394.8" y="301.65" font-size="12" font-weight="bold" fill="#ffffff" textLength="41.6" lengthAdjust="spacingAndGlyphs">SMA:MA</text>
<rect x="1442" y="289" width="55.4" height="16.7" rx="2" fill="#3030fd"/><rect x="1442" y="289" width="4" height="16.7" fill="#3030fd"/><text x="1450.6" y="301.65" font-size="12" font-weight="bold" fill="#ffffff" textLength="41.4" lengthAdjust="spacingAndGlyphs">1.26181</text>
<rect x="1442" y="314.9" width="55.8" height="33.1" rx="2" fill="#ff9800"/><rect x="1442" y="314.9" width="4" height="33.1" fill="#ff9800"/>
<text x="1450.6" y="327.5" font-size="12" fill="#131722" textLength="41.4" lengthAdjust="spacingAndGlyphs">1.25807</text>
<text x="1450.6" y="344.2" font-size="12" fill="#131722" textLength="41.4" lengthAdjust="spacingAndGlyphs">1.25790</text>
<rect x="1390.3" y="349" width="50.7" height="16.7" rx="2" fill="#f23645"/><rect x="1437" y="349" width="4" height="16.7" fill="#f23645"/><text x="1394.8" y="361.65" font-size="12" font-weight="bold" fill="#ffffff" textLength="41.6" lengthAdjust="spacingAndGlyphs">SMA:MA</text>
<rect x="1442" y="349" width="55.4" height="16.7" rx="2" fill="#f23645"/><rect x="1442" y="349" width="4" height="16.7" fill="#f23645"/><text x="1450.6" y="361.65" font-size="12" font-weight="bold" fill="#ffffff" textLength="41.4" lengthAdjust="spacingAndGlyphs">1.25542</text>
<rect x="1442" y="372.2" width="55.4" height="16.3" rx="2" fill="#000000"/><rect x="1442" y="372.2" width="4" height="16.3" fill="#000000"/><text x="1450.6" y="384.65" font-size="12" font-weight="bold" fill="#ffffff" textLength="41.4" lengthAdjust="spacingAndGlyphs">1.25005</text>
<rect x="1442" y="514" width="55.4" height="16.7" rx="2" fill="#131722"/><rect x="1442" y="514" width="4" height="16.7" fill="#131722"/><text x="1450.6" y="526.65" font-size="12" font-weight="bold" fill="#ffffff" textLength="41.4" lengthAdjust="spacingAndGlyphs">1.22997</text>
<rect x="1442" y="583.8" width="55.4" height="17.1" rx="2" fill="#000000"/><rect x="1442" y="583.8" width="4" height="17.1" fill="#000000"/><text x="1450.6" y="596.65" font-size="12" font-weight="bold" fill="#ffffff" textLength="41.4" lengthAdjust="spacingAndGlyphs">1.22001</text>
<rect x="1361.1" y="713.1" width="79.9" height="16.6" rx="2" fill="#ffeb3b"/><rect x="1437" y="713.1" width="4" height="16.6" fill="#ffeb3b"/><text x="1365.7" y="725.7" font-size="12"  fill="#131722" textLength="71.3" lengthAdjust="spacingAndGlyphs">RSI-based MA</text>
<rect x="1442" y="713.1" width="42.9" height="16.6" rx="2" fill="#ffeb3b"/><rect x="1442" y="713.1" width="4" height="16.6" fill="#ffeb3b"/><text x="1450.2" y="725.7" font-size="12"  fill="#131722" textLength="29" lengthAdjust="spacingAndGlyphs">57.32</text>
<rect x="1415.1" y="730.3" width="25.9" height="16.6" rx="2" fill="#7e57c2"/><rect x="1437" y="730.3" width="4" height="16.6" fill="#7e57c2"/><text x="1420" y="742.9" font-size="12" font-weight="bold" fill="#ffffff" textLength="16" lengthAdjust="spacingAndGlyphs">RSI</text>
<rect x="1442" y="730.3" width="42.9" height="16.6" rx="2" fill="#7e57c2"/><rect x="1442" y="730.3" width="4" height="16.6" fill="#7e57c2"/><text x="1450.2" y="742.9" font-size="12" font-weight="bold" fill="#ffffff" textLength="29.3" lengthAdjust="spacingAndGlyphs">52.34</text>
<text x="1450" y="766.6" font-size="12" fill="#6a6d78" textLength="29.3" lengthAdjust="spacingAndGlyphs">40.00</text>
<text x="40.3" y="812.2" font-size="12"  fill="#50535e" textLength="19.7" lengthAdjust="spacingAndGlyphs">Nov</text>
<text x="193.2" y="812.2" font-size="12"  fill="#50535e" textLength="19.5" lengthAdjust="spacingAndGlyphs">Dec</text>
<text x="335.5" y="812.2" font-size="12" font-weight="bold" fill="#2a2e39" textLength="27.5" lengthAdjust="spacingAndGlyphs">2024</text>
<text x="498.9" y="812.2" font-size="12"  fill="#50535e" textLength="19.5" lengthAdjust="spacingAndGlyphs">Feb</text>
<text x="645.4" y="812.2" font-size="12"  fill="#50535e" textLength="19.2" lengthAdjust="spacingAndGlyphs">Mar</text>
<text x="791.5" y="812.2" font-size="12"  fill="#50535e" textLength="18.5" lengthAdjust="spacingAndGlyphs">Apr</text>
<text x="943.1" y="812.2" font-size="12"  fill="#50535e" textLength="21.3" lengthAdjust="spacingAndGlyphs">May</text>
<text x="1104.5" y="812.2" font-size="12"  fill="#50535e" textLength="18" lengthAdjust="spacingAndGlyphs">Jun</text>
<text x="1245" y="812.2" font-size="12"  fill="#50535e" textLength="15.6" lengthAdjust="spacingAndGlyphs">Jul</text>
<text x="1403.6" y="812.2" font-size="12"  fill="#50535e" textLength="28.4" lengthAdjust="spacingAndGlyphs">Aug</text>
<g fill="#131722"><path d="M10.1,834 H17.8 V843.7 H14 V837.8 H10.1 Z"/><circle cx="21" cy="836.1" r="1.9"/><path d="M25,834 H29.5 L25.9,843.7 H21.1 Z"/></g>
<text x="33.3" y="844.2" font-size="13" fill="#2f323d" textLength="70" lengthAdjust="spacingAndGlyphs">TradingView</text>
<defs><filter id="ws" x="-20%" y="-20%" width="140%" height="140%"><feDropShadow dx="1.7" dy="1.6" stdDeviation="0.9" flood-color="#3c3c46" flood-opacity="0.75"/></filter><filter id="ts" x="-20%" y="-20%" width="140%" height="140%"><feDropShadow dx="1.2" dy="1.2" stdDeviation="0.5" flood-color="#7d6fa6" flood-opacity="0.9"/></filter></defs>
<g filter="url(#ws)" fill="none" stroke="#ffffff" stroke-opacity="0.94"><polyline stroke-width="7" points="1292,770.5 1333.5,770.5"/><polyline stroke-width="5" points="1300,774 1295,778.5"/><polyline stroke-width="6" points="1270,816 1276,815 1284,798"/><polyline stroke-width="6" points="1299,781 1329,781"/><polyline stroke-width="6" points="1297,784 1289.5,815"/><polyline stroke-width="7" points="1290,797 1326,797"/><polyline stroke-width="7" points="1286.5,814.5 1320,814.5"/><polyline stroke-width="7" points="1331,767 1322,810 1316,815.5"/><polyline stroke-width="3" points="1314,785.5 1317,792.5"/><polyline stroke-width="3" points="1310,802 1313,809.5"/><polyline stroke-width="7" points="1341.5,768.5 1391,768.5"/><polyline stroke-width="6" points="1346.5,772 1344,785"/><polyline stroke-width="8.5" points="1337,790 1384,790"/><polyline stroke-width="6.5" points="1389,766 1379,811 1374,815.5"/><polyline stroke-width="7" points="1332.5,805 1372.5,805"/><polyline stroke-width="7" points="1356,815.5 1376,815.5"/><polyline stroke-width="7" points="1402.5,766 1396.5,805"/><polyline stroke-width="8" points="1400,770 1419,770"/><polyline stroke-width="7" points="1419,770 1412,804"/><polyline stroke-width="6" points="1398,804 1390,814.5"/><polyline stroke-width="5" points="1407,806 1411,815"/><polyline stroke-width="6" points="1424,766 1412,815"/><polyline stroke-width="7" points="1427,774.5 1441,774.5"/><polyline stroke-width="6" points="1438.5,781 1424,815 1418,815"/><polyline stroke-width="7" points="1451.5,767 1440.5,812"/><polyline stroke-width="6" points="1475,767 1463.5,780"/><polyline stroke-width="6" points="1478,778 1466,792.5"/><polyline stroke-width="4" points="1455,785 1459,789.5"/><polyline stroke-width="7" points="1484,769.5 1500,769.5"/><polyline stroke-width="7" points="1510.5,766 1498,781 1475,793"/><polyline stroke-width="7" points="1486,785 1504,788.5"/><polyline stroke-width="6" points="1466,798 1506,798"/><polyline stroke-width="6" points="1453,802 1473,802"/><polyline stroke-width="7" points="1491.8,800 1488.8,812"/><polyline stroke-width="7" points="1450,814.5 1502,814.5"/><polygon fill="#fff" fill-opacity="0.94" stroke="none" points="1281,765 1292.5,765 1292.5,780 1281,780"/><polygon fill="#fff" fill-opacity="0.94" stroke="none" points="1279.5,782 1286,782 1285,791 1278.5,791"/></g>
<text filter="url(#ts)" x="1282 1309 1337 1361 1381 1413 1438 1458 1482" y="852" font-size="31" font-weight="bold" font-style="italic" fill="#8dcfc6" stroke="#8dcfc6" stroke-width="1.6" stroke-linejoin="round">zzrt01.cn</text>
</svg></body></html>
